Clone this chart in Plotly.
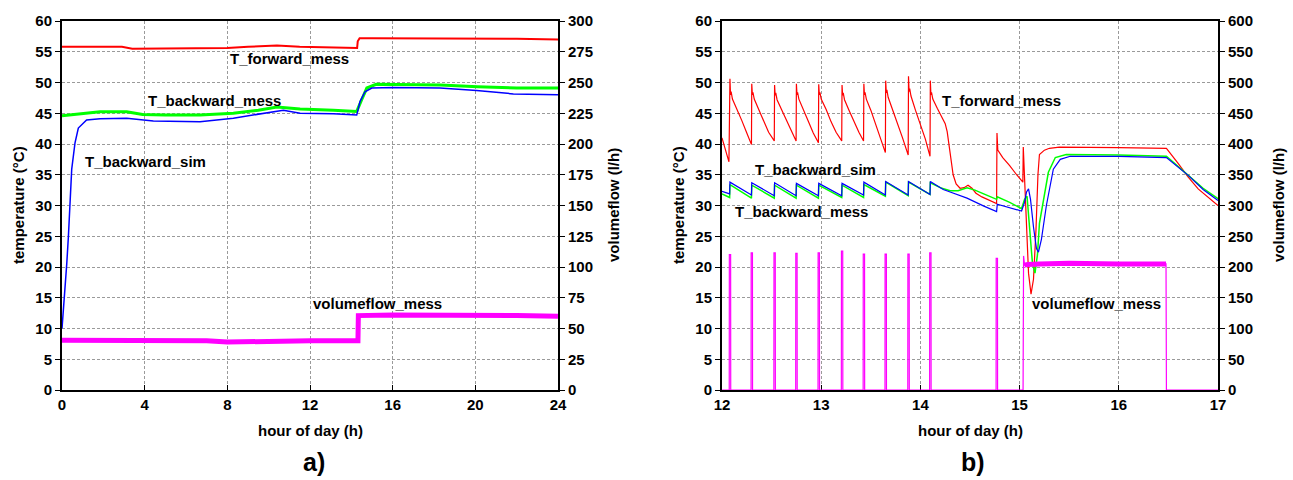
import plotly.graph_objects as go

# ---------------- Panel a) data ----------------
a_fwd_h = [0, 1, 2, 2.9, 3.4, 5, 6, 7, 8, 9, 10.4, 11.5, 12.5, 13.1, 14.28, 14.31, 14.4, 15, 16, 18, 20, 22, 24]
a_fwd_T = [55.8, 55.8, 55.8, 55.8, 55.5, 55.5, 55.5, 55.6, 55.6, 55.8, 56.0, 55.8, 55.7, 55.6, 55.6, 56.7, 57.2, 57.2, 57.2, 57.2, 57.1, 57.1, 57.0]

a_bwm_h = [0, 1.0, 1.84, 3.13, 3.9, 5.0, 6.68, 8.29, 9.5, 10.4, 11.52, 13.13, 14.26, 14.5, 14.75, 15.2, 16.35, 18.3, 20.1, 22.0, 24.0]
a_bwm_T = [44.6, 45.0, 45.25, 45.25, 44.8, 44.7, 44.7, 45.0, 45.5, 46.0, 45.7, 45.5, 45.3, 47.2, 49.1, 49.7, 49.7, 49.6, 49.3, 49.1, 49.1]

a_sim_h = [0.0, 0.1, 0.23, 0.31, 0.39, 0.47, 0.63, 0.79, 1.19, 1.84, 3.13, 4.42, 6.68, 8.29, 10.71, 11.52, 13.13, 14.26, 14.42, 14.66, 14.99, 16.03, 18.29, 20.06, 21.84, 24.0]
a_sim_T = [10.0, 14.0, 20.5, 25.0, 30.6, 35.9, 40.2, 42.6, 43.9, 44.1, 44.2, 43.75, 43.6, 44.2, 45.5, 45.0, 44.9, 44.7, 46.9, 48.5, 49.1, 49.2, 49.1, 48.7, 48.15, 48.0]

a_flow_h = [0, 2, 4, 6, 7, 8, 9, 10, 12, 14.32, 14.34, 16, 18, 20, 22, 24]
a_flow_V = [40.5, 40.5, 40.5, 40.0, 40.0, 39.0, 39.5, 40.0, 40.0, 40.0, 60.5, 61.0, 60.5, 60.0, 60.5, 60.0]

# ---------------- Panel b) data ----------------
b_fwd_h = [12.00, 12.07,
           12.080, 12.086, 12.092, 12.105, 12.15, 12.20, 12.25, 12.297,
           12.300, 12.306, 12.312, 12.325, 12.37, 12.42, 12.47, 12.527,
           12.530, 12.536, 12.542, 12.555, 12.60, 12.65, 12.70, 12.747,
           12.750, 12.756, 12.762, 12.775, 12.82, 12.87, 12.92, 12.972,
           12.975, 12.981, 12.987, 13.000, 13.05, 13.10, 13.15, 13.207,
           13.210, 13.216, 13.222, 13.235, 13.28, 13.33, 13.38, 13.427,
           13.430, 13.436, 13.442, 13.455, 13.50, 13.55, 13.60, 13.647,
           13.650, 13.656, 13.662, 13.675, 13.72, 13.77, 13.82, 13.877,
           13.880, 13.886, 13.892, 13.905, 13.95, 14.00, 14.05, 14.097,
           14.100, 14.106, 14.112, 14.125, 14.17, 14.22, 14.25, 14.27, 14.30, 14.33, 14.36, 14.40,
           14.44, 14.48, 14.52, 14.56, 14.62, 14.70, 14.768,
           14.772, 14.78, 14.83, 14.90, 14.97, 15.033,
           15.037, 15.05, 15.07, 15.09, 15.115, 15.14, 15.165, 15.185, 15.20, 15.25, 15.30, 15.40,
           16.00, 16.48, 16.60, 16.70, 16.80, 16.90, 17.00]
b_fwd_T = [41.0, 37.1,
           50.6, 48.0, 48.5, 47.3, 45.7, 43.8, 41.8, 39.9,
           49.8, 48.0, 48.4, 47.3, 45.6, 43.7, 41.9, 40.5,
           49.6, 47.9, 48.3, 47.2, 45.6, 43.8, 42.0, 40.5,
           49.8, 48.0, 48.4, 47.3, 45.7, 43.7, 41.8, 40.2,
           49.7, 48.0, 48.4, 47.3, 45.6, 43.6, 41.9, 40.5,
           49.6, 47.9, 48.3, 47.2, 45.5, 43.6, 41.9, 40.5,
           49.8, 48.0, 48.4, 47.3, 45.5, 43.2, 41.0, 38.6,
           50.3, 48.3, 48.8, 47.6, 45.6, 43.5, 41.0, 38.2,
           51.0, 48.5, 49.0, 47.8, 45.5, 43.2, 40.8, 38.0,
           50.3, 48.0, 48.4, 47.3, 45.8, 44.2, 43.3, 42.0, 38.5, 35.0, 33.5, 32.8,
           32.9, 33.3, 32.8, 32.0, 31.4, 30.8, 30.3,
           41.8, 39.0, 37.8, 36.5, 35.0, 33.8,
           39.5, 35.0, 26.0, 19.0, 15.6, 18.0, 26.0, 35.0, 38.3, 39.0, 39.3, 39.5,
           39.4, 39.3, 36.8, 34.6, 32.7, 31.3, 30.0]

b_sim_h = [12.00, 12.077, 12.08, 12.297, 12.30, 12.527, 12.53, 12.747, 12.75, 12.972, 12.975,
           13.207, 13.21, 13.427, 13.43, 13.647, 13.65, 13.877, 13.88, 14.097, 14.10,
           14.23, 14.30, 14.47, 14.64, 14.768, 14.775, 15.02, 15.05, 15.07, 15.09, 15.11,
           15.14, 15.17, 15.19, 15.22, 15.27, 15.34, 15.41, 15.51, 16.00, 16.48, 16.70, 16.85, 17.00]
b_sim_T = [32.3, 31.9, 33.8, 31.7, 33.7, 31.6, 33.7, 31.6, 33.6, 31.6, 33.6,
           31.6, 33.6, 31.7, 33.8, 31.7, 33.9, 31.7, 33.9, 31.8, 33.9,
           32.6, 32.2, 31.2, 29.9, 29.0, 30.2, 29.1, 30.5, 32.2, 32.7, 31.0,
           26.5, 23.0, 22.4, 24.5, 30.0, 35.9, 37.5, 38.0, 38.0, 37.8, 34.9, 32.6, 30.8]

b_bwm_h = [12.00, 12.077, 12.08, 12.297, 12.30, 12.527, 12.53, 12.747, 12.75, 12.972, 12.975,
           13.207, 13.21, 13.427, 13.43, 13.647, 13.65, 13.877, 13.88, 14.097, 14.10,
           14.20, 14.30, 14.38, 14.47, 14.55, 14.65, 14.768, 14.775, 14.90, 15.02, 15.05, 15.075,
           15.10, 15.13, 15.155, 15.18, 15.20, 15.24, 15.29, 15.36, 15.47, 16.00, 16.48, 16.70, 16.85, 17.00]
b_bwm_T = [31.9, 31.3, 33.4, 31.2, 33.3, 31.2, 33.3, 31.2, 33.3, 31.2, 33.3,
           31.3, 33.3, 31.3, 33.4, 31.5, 33.8, 31.6, 33.8, 31.8, 33.7,
           32.9, 32.4, 32.4, 32.9, 32.5, 31.8, 31.0, 31.4, 30.5, 29.5, 31.0, 31.5,
           27.0, 20.5, 19.0, 22.0, 27.1, 31.1, 35.4, 37.8, 38.3, 38.2, 38.0, 34.9, 32.8, 31.1]

b_spike_h = [12.08, 12.30, 12.53, 12.75, 12.975, 13.21, 13.43, 13.65, 13.88, 14.10, 14.77]
b_spike_V = [220, 223, 223, 222, 223, 226, 221, 221, 221, 223, 214]

b_flow_on_h = [15.035, 15.04, 15.05, 15.08, 15.2, 15.5, 16.0, 16.3, 16.476, 16.48, 17.0]
b_flow_on_V = [0, 218, 203, 204, 205, 206, 205, 206, 205, 0, 0]

# ---------------- build the volumeflow polyline of panel b ----------------
HW = 0.007
fx, fy = [12.0], [0.0]
for t, v in zip(b_spike_h, b_spike_V):
    fx += [t - HW, t - HW + 0.001, t + HW, t + HW + 0.001]
    fy += [0, v, v, 0]
fx += b_flow_on_h
fy += b_flow_on_V

RED, GREEN, BLUE, MAG = "#ff0000", "#00ff00", "#0000ff", "#ff00ff"
FONT = "Liberation Sans"

fig = go.Figure()
# panel a
fig.add_trace(go.Scatter(x=a_fwd_h, y=a_fwd_T, mode="lines", line=dict(color=RED, width=2), xaxis="x", yaxis="y"))
fig.add_trace(go.Scatter(x=a_bwm_h, y=a_bwm_T, mode="lines", line=dict(color=GREEN, width=3), xaxis="x", yaxis="y"))
fig.add_trace(go.Scatter(x=a_sim_h, y=a_sim_T, mode="lines", line=dict(color=BLUE, width=1.5), xaxis="x", yaxis="y"))
fig.add_trace(go.Scatter(x=a_flow_h, y=a_flow_V, mode="lines", line=dict(color=MAG, width=5), xaxis="x", yaxis="y2"))
# panel b
fig.add_trace(go.Scatter(x=b_fwd_h, y=b_fwd_T, mode="lines", line=dict(color=RED, width=1.2), xaxis="x2", yaxis="y3"))
fig.add_trace(go.Scatter(x=b_bwm_h, y=b_bwm_T, mode="lines", line=dict(color=GREEN, width=1.5), xaxis="x2", yaxis="y3"))
fig.add_trace(go.Scatter(x=b_sim_h, y=b_sim_T, mode="lines", line=dict(color=BLUE, width=1.2), xaxis="x2", yaxis="y3"))
fig.add_trace(go.Scatter(x=fx, y=fy, mode="lines", line=dict(color=MAG, width=1.2), xaxis="x2", yaxis="y4"))
fig.add_trace(go.Scatter(x=b_flow_on_h[2:9], y=b_flow_on_V[2:9], mode="lines", line=dict(color=MAG, width=5), xaxis="x2", yaxis="y4"))

tickfont = dict(family=FONT, size=15, color="black", weight="bold")
grid = dict(showgrid=True, gridcolor="#9a9a9a", gridwidth=1, griddash="3px,2px", zeroline=False)
common_x = dict(showline=True, linecolor="black", linewidth=2, mirror=True, ticks="inside", ticklen=5,
                tickcolor="black", tickwidth=1, tickfont=tickfont, layer="below traces", **grid)
common_yl = dict(showline=True, linecolor="black", linewidth=2, ticks="outside", ticklen=5,
                 tickcolor="black", tickwidth=1, tickfont=tickfont, layer="below traces", **grid)
common_yr = dict(showline=True, linecolor="black", linewidth=2, ticks="outside", ticklen=5,
                 tickcolor="black", tickwidth=1, tickfont=tickfont, showgrid=False, zeroline=False,
                 side="right", layer="below traces")

dA = [0, 496 / 1156]
dB = [660 / 1156, 1]

fig.update_layout(
    width=1293, height=480, autosize=False,
    margin=dict(l=62, r=75, t=17, b=90, pad=0),
    paper_bgcolor="white", plot_bgcolor="white", showlegend=False,
    xaxis=dict(domain=dA, range=[0, 24], tickvals=list(range(0, 25, 4)), anchor="y", **common_x),
    yaxis=dict(range=[0, 60], tickvals=list(range(0, 61, 5)), anchor="x", **common_yl),
    yaxis2=dict(range=[0, 300], tickvals=list(range(0, 301, 25)), overlaying="y", anchor="x", **common_yr),
    xaxis2=dict(domain=dB, range=[12, 17], tickvals=list(range(12, 18)), anchor="y3", **common_x),
    yaxis3=dict(range=[0, 60], tickvals=list(range(0, 61, 5)), anchor="x2", **common_yl),
    yaxis4=dict(range=[0, 600], tickvals=list(range(0, 601, 50)), overlaying="y3", anchor="x2", **common_yr),
)

ann = []
def A(text, x, y, xref="paper", yref="paper", angle=0, size=15):
    ann.append(dict(text=text, x=x, y=y, xref=xref, yref=yref, showarrow=False, textangle=angle,
                    xanchor="center", yanchor="middle",
                    font=dict(family=FONT, size=size, color="black", weight="bold")))

def px(xpix):
    return (xpix - 62) / 1156
def py(ypix):
    return (390 - ypix) / 373

# curve labels
A("T_forward_mess", 11.03, 53.9, "x", "y")
A("T_backward_mess", 7.38, 47.0, "x", "y")
A("T_backward_sim", 4.06, 37.1, "x", "y")
A("volumeflow_mess", 15.27, 14.1, "x", "y")
A("T_forward_mess", 14.82, 47.0, "x2", "y3")
A("T_backward_sim", 12.94, 35.9, "x2", "y3")
A("T_backward_mess", 12.80, 28.95, "x2", "y3")
A("volumeflow_mess", 15.78, 14.04, "x2", "y3")
# axis titles
A("temperature (°C)", px(18), py(203), angle=-90)
A("volumeflow (l/h)", px(613), py(203), angle=-90)
A("temperature (°C)", px(678), py(203), angle=-90)
A("volumeflow (l/h)", px(1278), py(203), angle=-90)
A("hour of day (h)", px(310), py(431))
A("hour of day (h)", px(970), py(431))
A("a)", px(314), py(463), size=25)
A("b)", px(973), py(463), size=25)
fig.update_layout(annotations=ann)

fig.write_html("out.html")
